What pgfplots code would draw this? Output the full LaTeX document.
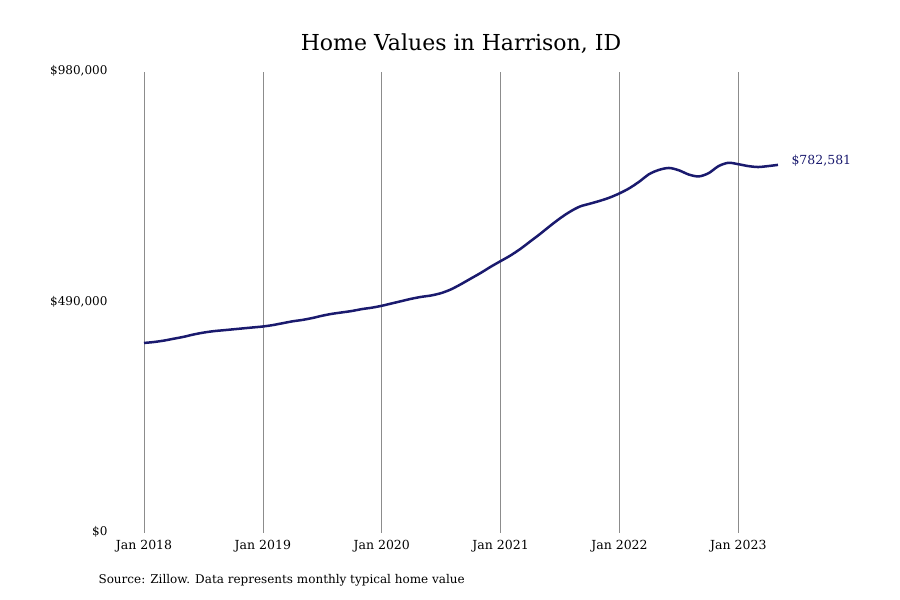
\documentclass[border=0pt]{standalone}
\usepackage{pgfplots}
\pgfplotsset{compat=1.18}
\usepackage{fontspec}
\setmainfont{DejaVu Serif}
\definecolor{linec}{RGB}{26,26,110}
\definecolor{gridc}{RGB}{140,140,140}
\begin{document}
\begin{tikzpicture}[x=1pt,y=1pt]
\useasboundingbox (0,0) rectangle (900,600);
\begin{axis}[
  at={(144pt,67pt)}, anchor=south west,
  scale only axis, width=634pt, height=461pt,
  xmin=0, xmax=64, ymin=0, ymax=980000,
  axis line style={draw=none},
  scaled y ticks=false,
  xtick={0,12,24,36,48,60},
  xticklabels={Jan 2018,Jan 2019,Jan 2020,Jan 2021,Jan 2022,Jan 2023},
  ytick={0,490000,980000},
  yticklabels={\$0,\$490{,}000,\$980{,}000},
  xmajorgrids, major grid style={gridc, line width=0.6pt},
  tick style={draw=none},
  xticklabel style={font=\fontsize{12.5}{14}\selectfont, yshift=-4pt},
  yticklabel style={font=\fontsize{12}{14}\selectfont, xshift=-33pt, yshift=1pt},
  clip=false,
]
\addplot[linec, line width=2.5pt, smooth] coordinates {
(0,404000)(1,406000)(2,409000)(3,413000)(4,417000)(5,422000)(6,426000)(7,429000)
(8,431000)(9,433000)(10,435000)(11,437000)(12,439000)(13,442000)(14,446000)(15,450000)
(16,453000)(17,457000)(18,462000)(19,466000)(20,469000)(21,472000)(22,476000)(23,479000)
(24,483000)(25,488000)(26,493000)(27,498000)(28,502000)(29,505000)(30,510000)(31,518000)
(32,529000)(33,541000)(34,553000)(35,566000)(36,578000)(37,590000)(38,604000)(39,620000)
(40,636000)(41,653000)(42,669000)(43,683000)(44,694000)(45,700000)(46,706000)(47,713000)
(48,722000)(49,733000)(50,747000)(51,763000)(52,772000)(53,776000)(54,771000)(55,762000)
(56,758000)(57,765000)(58,780000)(59,787000)(60,784000)(61,780000)(62,778000)(63,780000)
(64,782581)
};
\node[anchor=west, font=\fontsize{12.5}{14}\selectfont, text=linec] at (axis cs:64,792000) [xshift=10pt] {\$782,581};
\end{axis}
\node[font=\fontsize{22}{26}\selectfont] at (461,556) {Home Values in Harrison, ID};
\node[anchor=west, font=\fontsize{12}{14}\selectfont] at (95,20) {Source: Zillow. Data represents monthly typical home value};
\end{tikzpicture}
\end{document}
